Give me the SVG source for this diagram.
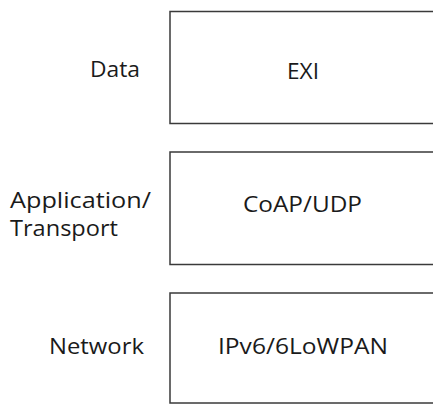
<svg xmlns="http://www.w3.org/2000/svg" width="433" height="405" viewBox="0 0 433 405">
<style>
.box{fill:#fff;stroke:#3a3a3a;stroke-width:1.5}
.t{font-family:"Open Sans","Noto Sans",sans-serif;font-size:21px;fill:#1a1a1a}
.c{text-anchor:middle}
</style>
<rect width="433" height="405" fill="#fff"/>
<g id="labels">
<text class="t c" x="115" y="77" textLength="50" lengthAdjust="spacingAndGlyphs">Data</text>
<text class="t" x="10" y="208" textLength="141" lengthAdjust="spacingAndGlyphs">Application/</text>
<text class="t" x="10" y="236" textLength="108" lengthAdjust="spacingAndGlyphs">Transport</text>
<text class="t c" x="96.5" y="354" textLength="95" lengthAdjust="spacingAndGlyphs">Network</text>
</g>
<g id="node-exi">
<rect class="box" x="170" y="11.5" width="270" height="112"/>
<text class="t c" x="303" y="79" textLength="32" lengthAdjust="spacingAndGlyphs">EXI</text>
</g>
<g id="node-coap">
<rect class="box" x="170" y="152" width="270" height="112.5"/>
<text class="t c" x="302.5" y="212" textLength="119" lengthAdjust="spacingAndGlyphs">CoAP/UDP</text>
</g>
<g id="node-ipv6">
<rect class="box" x="170" y="293" width="270" height="110"/>
<text class="t c" x="303" y="354" textLength="170" lengthAdjust="spacingAndGlyphs">IPv6/6LoWPAN</text>
</g>
<g id="connectors"/>
</svg>
